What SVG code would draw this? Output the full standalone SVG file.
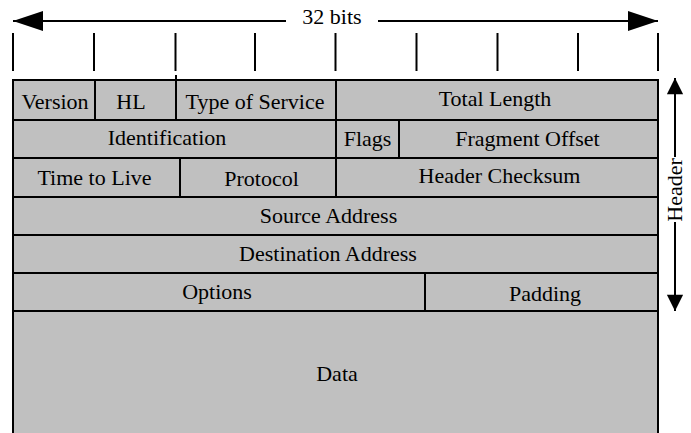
<svg xmlns="http://www.w3.org/2000/svg" width="691" height="433" viewBox="0 0 691 433">
<style>
.cell{fill:#c0c0c0;stroke:#000;stroke-width:2}
.ln{stroke:#000;stroke-width:2;fill:none}
text{font-family:"Liberation Serif","Times New Roman",serif;font-size:22px;fill:#000;text-anchor:middle}
</style>
<defs>
<marker id="ah" viewBox="0 0 30 20" refX="30" refY="10" markerWidth="30" markerHeight="20" markerUnits="userSpaceOnUse" orient="auto">
<path d="M0,0 L30,10 L0,20 Z" fill="#000"/>
</marker>
<marker id="ahv" viewBox="0 0 18 20" refX="18" refY="9" markerWidth="18" markerHeight="18" markerUnits="userSpaceOnUse" orient="auto">
<path d="M0,0 L18,9 L0,18 Z" fill="#000"/>
</marker>
</defs>
<rect width="691" height="433" fill="#fff"/>
<g id="ticks" class="ln">
<line x1="13" y1="33" x2="13" y2="71"/>
<line x1="94" y1="33" x2="94" y2="71"/>
<line x1="175.5" y1="33" x2="175.5" y2="71"/>
<line x1="255" y1="33" x2="255" y2="71"/>
<line x1="335.5" y1="33" x2="335.5" y2="71"/>
<line x1="416.5" y1="33" x2="416.5" y2="71"/>
<line x1="497.5" y1="33" x2="497.5" y2="71"/>
<line x1="578" y1="33" x2="578" y2="71"/>
<line x1="658" y1="33" x2="658" y2="71"/>
</g>
<g id="bits-label"><text x="332" y="24">32 bits</text></g>
<g id="data"><rect class="cell" x="13" y="311" width="645" height="140"/><text x="337" y="381">Data</text></g>
<g id="version"><rect class="cell" x="13" y="80" width="82" height="40"/><text x="55" y="109">Version</text></g>
<g id="hl"><rect class="cell" x="95" y="80" width="81" height="40"/><text x="131" y="109">HL</text></g>
<g id="tos"><rect class="cell" x="176" y="80" width="160" height="40"/><text x="255" y="109">Type of Service</text></g>
<g id="total-length"><rect class="cell" x="336" y="80" width="322" height="40"/><text x="495" y="106">Total Length</text></g>
<g id="identification"><rect class="cell" x="13" y="120" width="323" height="38"/><text x="167" y="145">Identification</text></g>
<g id="flags"><rect class="cell" x="336" y="120" width="63" height="38"/><text x="367.5" y="146">Flags</text></g>
<g id="fragment-offset"><rect class="cell" x="399" y="120" width="259" height="38"/><text x="527.5" y="146">Fragment Offset</text></g>
<g id="ttl"><rect class="cell" x="13" y="158" width="167" height="39"/><text x="94.5" y="185">Time to Live</text></g>
<g id="protocol"><rect class="cell" x="180" y="158" width="156" height="39"/><text x="261.5" y="186">Protocol</text></g>
<g id="checksum"><rect class="cell" x="336" y="158" width="322" height="39"/><text x="499.5" y="183">Header Checksum</text></g>
<g id="source"><rect class="cell" x="13" y="197" width="645" height="38"/><text x="328.5" y="223">Source Address</text></g>
<g id="destination"><rect class="cell" x="13" y="235" width="645" height="38"/><text x="328" y="261">Destination Address</text></g>
<g id="options"><rect class="cell" x="13" y="273" width="412" height="38"/><text x="217" y="299">Options</text></g>
<g id="padding"><rect class="cell" x="425" y="273" width="233" height="38"/><text x="545" y="301">Padding</text></g>
<line class="ln" x1="176" y1="75" x2="176" y2="80"/>
<g id="connectors" class="ln">
<line x1="286" y1="21" x2="13" y2="21" marker-end="url(#ah)"/>
<line x1="378" y1="21" x2="658" y2="21" marker-end="url(#ah)"/>
<line x1="675" y1="157" x2="675" y2="78" marker-end="url(#ahv)"/>
<line x1="675" y1="222" x2="675" y2="311" marker-end="url(#ahv)"/>
</g>
<g id="header-label"><text transform="translate(682,190) rotate(-90)">Header</text></g>
</svg>
